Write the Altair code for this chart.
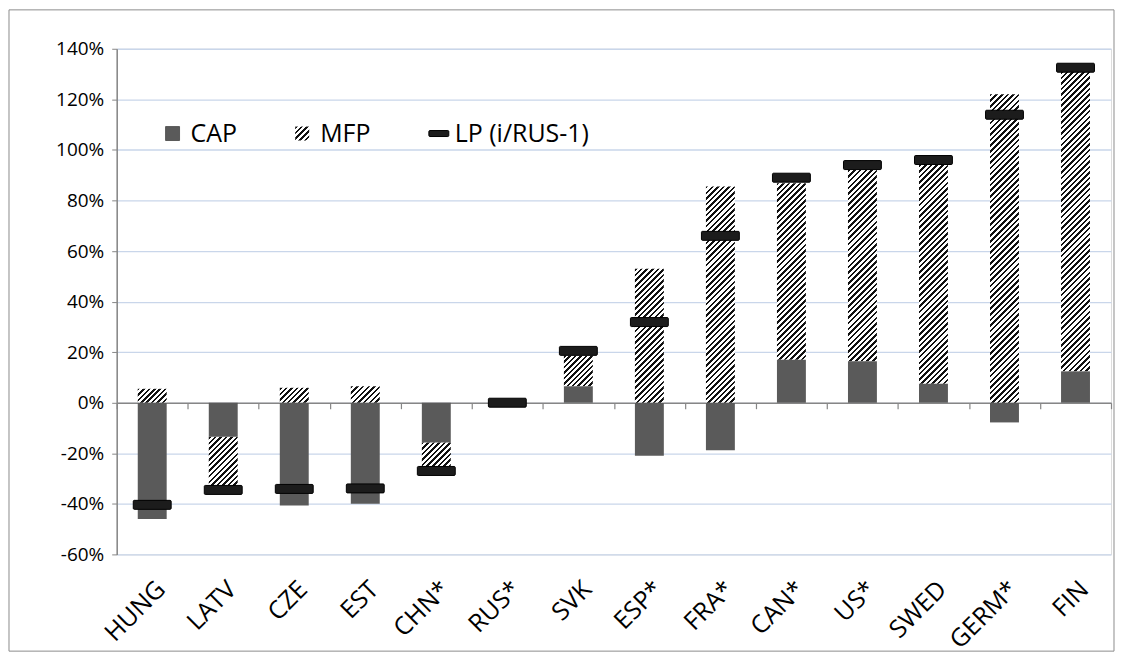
import altair as alt

# ---------------- data ----------------
categories = ["HUNG", "LATV", "CZE", "EST", "CHN*", "RUS*", "SVK",
              "ESP*", "FRA*", "CAN*", "US*", "SWED", "GERM*", "FIN"]
cap = [-0.46, -0.135, -0.407, -0.40, -0.157, 0.0, 0.065,
       -0.21, -0.188, 0.17, 0.164, 0.075, -0.078, 0.124]
mfp = [0.055, -0.215, 0.059, 0.065, -0.105, 0.0, 0.121,
       0.53, 0.855, 0.698, 0.756, 0.865, 1.22, 1.186]
lp = [-0.404, -0.345, -0.341, -0.339, -0.27, 0.0, 0.205,
      0.319, 0.66, 0.89, 0.94, 0.96, 1.139, 1.325]
legend_labels = ["CAP", "MFP", "LP (i/RUS-1)"]

# ---------------- layout / style ----------------
W, H = 997, 507
Y_MIN, Y_MAX = -0.6, 1.4
BAR_W = 29
HATCH_P = 5.6
PX_PER_UNIT = H / (Y_MAX - Y_MIN)
ZERO_FROM_BOTTOM = (0 - Y_MIN) * PX_PER_UNIT
FONT = "Open Sans"
GRID = "#c9d6ea"
AXIS_GREY = "#868686"
CAP_COLOR = "#5a5a5a"


def hatch(h_px, w_px=BAR_W):
    """Diagonal '/' black-white stripes as a linear gradient (bbox units)."""
    h = max(h_px, 0.5)
    s = w_px + h
    k = s / (w_px ** 2 + h ** 2)
    n = max(1, int(round(s / HATCH_P)))
    stops = []
    for i in range(n):
        a, b, c = i / n, (i + 0.45) / n, (i + 1) / n
        stops += [{"offset": round(a, 5), "color": "#111111"},
                  {"offset": round(b, 5), "color": "#111111"},
                  {"offset": round(b, 5), "color": "#ffffff"},
                  {"offset": round(c, 5), "color": "#ffffff"}]
    return {"gradient": "linear", "x1": 0, "y1": 0,
            "x2": round(k * w_px, 5), "y2": round(k * h, 5), "stops": stops}


cap_rows, mfp_rows, lp_rows = [], [], []
for c, cv, mv, lv in zip(categories, cap, mfp, lp):
    cap_rows.append({"cat": c, "y0": 0.0, "y1": cv})
    start = cv if (cv != 0 and (cv > 0) == (mv > 0)) else 0.0
    mfp_rows.append({"cat": c, "y0": start, "y1": start + mv,
                     "grad": hatch(abs(mv) * PX_PER_UNIT)})
    lp_rows.append({"cat": c, "lp": lv})

x_axis = alt.Axis(
    title=None, orient="bottom", offset=-ZERO_FROM_BOTTOM,
    domainColor=AXIS_GREY, domainWidth=1.5, tickColor=AXIS_GREY, tickWidth=1.2,
    tickSize=6, tickBand="extent", grid=False,
    labelAngle=-45, labelPadding=ZERO_FROM_BOTTOM + 16, labelFont=FONT,
    labelFontSize=25, labelColor="#000000",
)
y_axis = alt.Axis(
    title=None, format=".0%", values=[-0.6, -0.4, -0.2, 0, 0.2, 0.4, 0.6, 0.8, 1.0, 1.2, 1.4],
    labelExpr="replace(datum.label, '\u2212', '-')",
    domainColor=AXIS_GREY, domainWidth=1.5, tickColor=AXIS_GREY, tickSize=5,
    gridColor=GRID, gridWidth=1.3, labelPadding=8, labelFont=FONT,
    labelFontSize=19, labelColor="#000000",
)
x_scale = alt.Scale(domain=categories, paddingInner=0, paddingOuter=0)
y_scale = alt.Scale(domain=[Y_MIN, Y_MAX], nice=False, zero=False)


def X():
    return alt.X("cat:N", sort=categories, scale=x_scale, axis=x_axis)


mfp_layer = alt.Chart(alt.Data(values=mfp_rows)).mark_bar(size=BAR_W).encode(
    x=X(),
    y=alt.Y("y0:Q", scale=y_scale, axis=y_axis),
    y2="y1:Q",
    fill=alt.Fill("grad:N", scale=None, legend=None),
)

cap_layer = alt.Chart(alt.Data(values=cap_rows)).mark_bar(
    size=BAR_W, color=CAP_COLOR).encode(
    x=X(),
    y=alt.Y("y0:Q", scale=y_scale, axis=y_axis),
    y2="y1:Q",
)

lp_layer = alt.Chart(alt.Data(values=lp_rows)).mark_tick(
    size=38, thickness=9, color="#1c1c1c", stroke="#000000", strokeWidth=1,
    cornerRadius=1, opacity=1).encode(
    x=X(),
    y=alt.Y("lp:Q", scale=y_scale, axis=y_axis),
)

# ---------------- legend (inside the plot, top-left) ----------------
leg_y = 85
cap_sw = alt.Chart(alt.Data(values=[{"k": 0}])).mark_rect(
    color=CAP_COLOR, stroke="#444444", strokeWidth=0.8).encode(
    x=alt.value(49), x2=alt.value(63), y=alt.value(leg_y - 7), y2=alt.value(leg_y + 7))
mfp_sw = alt.Chart(alt.Data(values=[{"k": 0}])).mark_rect(
    fill=hatch(14, 14)).encode(
    x=alt.value(179), x2=alt.value(193), y=alt.value(leg_y - 7), y2=alt.value(leg_y + 7))
lp_sw = alt.Chart(alt.Data(values=[{"k": 0}])).mark_rect(
    color="#1c1c1c", stroke="#000000", strokeWidth=1, cornerRadius=1).encode(
    x=alt.value(313), x2=alt.value(333), y=alt.value(leg_y - 3), y2=alt.value(leg_y + 3))

leg_text_rows = [{"label": lab, "px": px} for lab, px in zip(legend_labels, [74, 204, 339])]
leg_text = alt.Chart(alt.Data(values=leg_text_rows)).mark_text(
    align="left", baseline="middle", font=FONT, fontSize=25, color="#000000").encode(
    x=alt.X("px:Q", scale=None, axis=None),
    y=alt.value(leg_y),
    text="label:N",
)

frame = alt.Chart(alt.Data(values=[{"k": 0}])).mark_rect(
    fillOpacity=0, stroke="#8c8c8c", strokeWidth=1).encode(
    x=alt.value(-108), x2=alt.value(1000), y=alt.value(-39), y2=alt.value(604))

chart = alt.layer(
    mfp_layer, cap_layer, lp_layer, cap_sw, mfp_sw, lp_sw, leg_text, frame
).properties(
    width=W, height=H,
    autosize=alt.AutoSizeParams(type="none"),
    padding={"left": 109, "top": 40, "right": 6, "bottom": 100},
).configure_view(strokeOpacity=0).configure(background="#ffffff")

chart.save("out.html", embed_options={"renderer": "svg", "actions": False})
